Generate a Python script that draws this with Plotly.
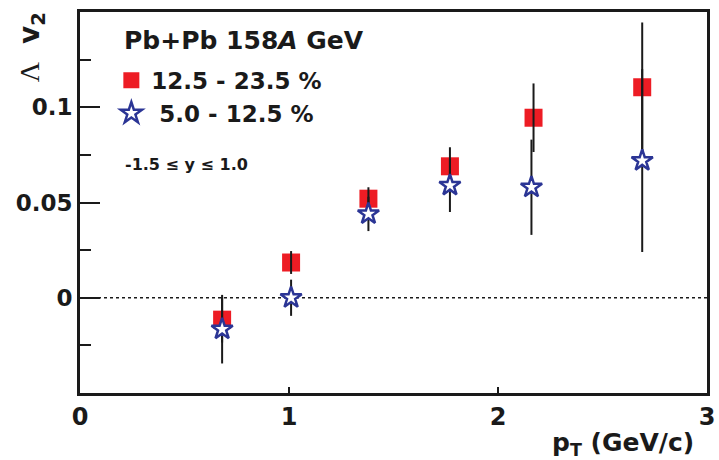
import plotly.graph_objects as go

# data: Lambda v2 vs pT
pt_semi = [0.68, 1.01, 1.38, 1.77, 2.17, 2.69]
v2_semi = [-0.0115, 0.0185, 0.052, 0.069, 0.0945, 0.1105]
err_semi = [0.012, 0.006, 0.006, 0.010, 0.018, 0.034]

pt_cent = [0.68, 1.01, 1.38, 1.77, 2.16, 2.69]
v2_cent = [-0.0165, 0.0, 0.044, 0.059, 0.058, 0.072]
err_cent = [0.018, 0.0095, 0.009, 0.014, 0.025, 0.048]

x_ticks = [0, 1, 2, 3]
y_ticks = [0, 0.05, 0.1]
y_tick_text = ["0", "0.05", "0.1"]

FONT = "DejaVu Sans, Liberation Sans, Arial, sans-serif"
TXT = "#1a1a1a"

fig = go.Figure()
fig.add_trace(go.Scatter(
    x=pt_semi, y=v2_semi, mode="markers", name="12.5 - 23.5 %",
    marker=dict(symbol="square", size=18, color="#ed1c24", line=dict(width=0)),
))
fig.add_trace(go.Scatter(
    x=pt_semi, y=v2_semi, mode="markers", showlegend=False, hoverinfo="skip",
    marker=dict(size=1, color="rgba(0,0,0,0)"),
    error_y=dict(type="data", array=err_semi, width=0, thickness=2, color="#1a1a1a"),
))
fig.add_trace(go.Scatter(
    x=pt_cent, y=v2_cent, mode="markers", name=" 5.0 - 12.5 %",
    marker=dict(symbol="star", size=16, color="white", line=dict(width=2.5, color="#2b3595")),
    error_y=dict(type="data", array=err_cent, width=0, thickness=2, color="#1a1a1a"),
))

fig.add_shape(type="line", xref="x", yref="y", x0=0, x1=3, y0=0, y1=0,
              line=dict(color="#1a1a1a", width=1.5, dash="dot"), layer="below")

fig.update_layout(
    width=719, height=460,
    margin=dict(l=80, r=12, t=12, b=67),
    paper_bgcolor="white", plot_bgcolor="white",
    font=dict(family=FONT, color=TXT),
    showlegend=True,
    legend=dict(x=0.050, y=0.877, xanchor="left", yanchor="top",
                font=dict(size=23, weight="bold", color=TXT, family=FONT),
                bgcolor="rgba(0,0,0,0)", itemsizing="trace", tracegroupgap=0),
    xaxis=dict(range=[0, 3], tickvals=x_ticks, ticks="inside", ticklen=6, tickwidth=2,
               tickcolor="#1a1a1a", showgrid=False, zeroline=False, automargin=False,
               showline=True, linecolor="#1a1a1a", linewidth=3, mirror=True,
               tickfont=dict(size=24, weight="bold", color=TXT, family=FONT)),
    yaxis=dict(range=[-0.05, 0.15], tickvals=y_ticks, ticktext=y_tick_text,
               ticks="inside", ticklen=20, tickwidth=2, tickcolor="#1a1a1a",
               minor=dict(ticks="inside", ticklen=11, tickwidth=2, dtick=0.025,
                          tick0=0, tickcolor="#1a1a1a", showgrid=False),
               showgrid=False, zeroline=False, automargin=False,
               showline=True, linecolor="#1a1a1a", linewidth=3, mirror=True,
               tickfont=dict(size=23, weight="bold", color=TXT, family=FONT)),
)

fig.add_annotation(text="<b>Pb+Pb 158<i>A</i> GeV</b>", xref="paper", yref="paper",
                   x=0.067, y=0.925, xanchor="left", yanchor="middle", showarrow=False,
                   font=dict(size=25, color=TXT, family=FONT))
fig.add_annotation(text="<b>-1.5 ≤ y ≤ 1.0</b>", xref="paper", yref="paper",
                   x=0.068, y=0.60, xanchor="left", yanchor="middle", showarrow=False,
                   font=dict(size=16, color=TXT, family=FONT))
fig.add_annotation(text="<b>p<sub>T</sub> (GeV/c)</b>", xref="paper", yref="paper",
                   x=0.983, y=-0.135, xanchor="right", yanchor="middle", showarrow=False,
                   font=dict(size=25, color=TXT, family=FONT))
fig.add_annotation(text="<span style='font-family:Liberation Serif'>Λ</span>  <b>v<sub>2</sub></b>",
                   xref="paper", yref="paper",
                   x=-0.078, y=0.908, xanchor="center", yanchor="middle", textangle=-90,
                   showarrow=False, font=dict(size=28, color=TXT, family=FONT))

fig.write_html("out.html")
